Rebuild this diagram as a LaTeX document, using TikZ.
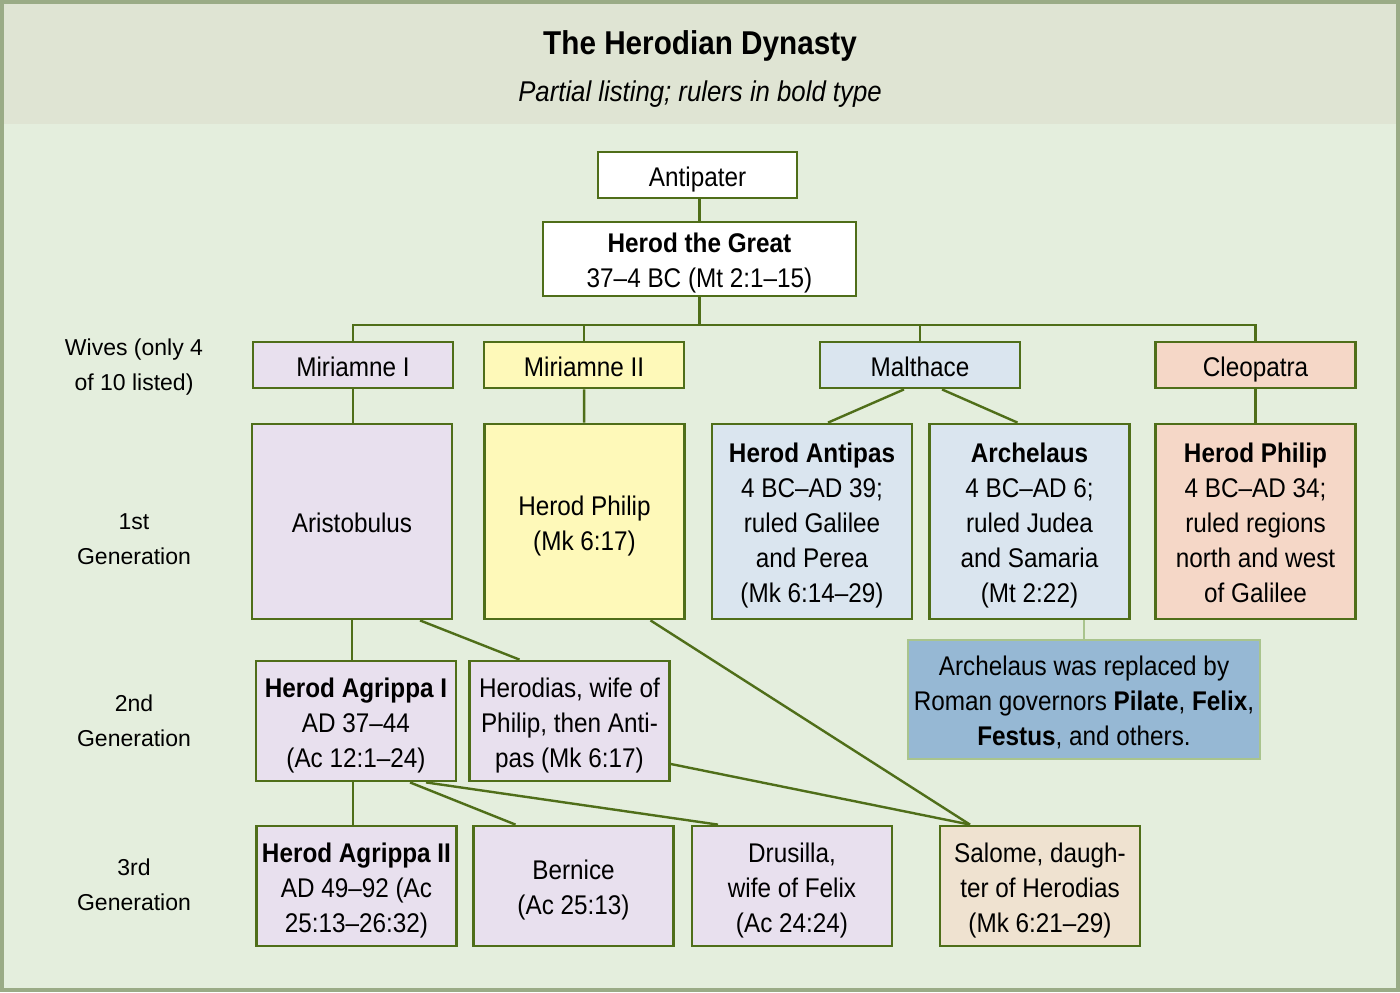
\documentclass[tikz,border=0pt]{standalone}
\usepackage{fontspec}
\setmainfont{Liberation Sans}[FakeStretch=0.9]
\newfontfamily\lblfont{Liberation Sans}
\usepackage{xcolor}
\usepackage{tikz}
\usetikzlibrary{positioning, calc}

\definecolor{framecol}{RGB}{154,171,134}
\definecolor{headbg}{RGB}{223,228,211}
\definecolor{bodybg}{RGB}{228,238,221}
\definecolor{linecol}{RGB}{79,110,25}
\definecolor{lavender}{RGB}{232,224,238}
\definecolor{paleyellow}{RGB}{254,249,185}
\definecolor{paleblue}{RGB}{218,229,239}
\definecolor{peach}{RGB}{245,215,199}
\definecolor{beige}{RGB}{239,226,208}
\definecolor{notefill}{RGB}{150,184,212}
\definecolor{noteline}{RGB}{169,196,141}

\newcommand{\tstrut}{\rule{0pt}{14pt}}

\begin{document}
\begin{tikzpicture}[
  x=0.5pt, y=-0.5pt,
  pbox/.style = {draw=linecol, line width=1.4pt, align=center, inner sep=0pt,
                 minimum width=100pt, font=\fontsize{13.5}{17.5}\selectfont,
                 execute at begin node=\tstrut,
                 execute at end node=\rule[-3pt]{0pt}{3pt}},
  small/.style = {pbox, minimum height=23pt},
  tall/.style = {pbox, minimum height=97.5pt},
  mid/.style = {pbox, minimum height=60pt},
  lbl/.style = {align=center, font=\lblfont\fontsize{11.5}{17.5}\selectfont},
  lnk/.style = {draw=linecol, line width=1.2pt}
]
\useasboundingbox (0,0) rectangle (1400,992);
\fill[bodybg] (0,0) rectangle (1400,992);
\fill[headbg] (4,4) rectangle (1396,124);
\draw[framecol, line width=2pt] (2,2) rectangle (1398,990);

\node[font=\bfseries\fontsize{16.5}{20}\selectfont] (title) at (700,46) {The Herodian Dynasty};
\node[font=\itshape\fontsize{14.3}{17}\selectfont] (subtitle) at (700,94) {Partial listing; rulers in bold type};

\node[lbl] (lblwives) at (134,367) {Wives (only 4\\of 10 listed)};
\node[lbl] (lblgen1) at (134,539) {1st\\Generation};
\node[lbl] (lblgen2) at (134,721) {2nd\\Generation};
\node[lbl] (lblgen3) at (134,885) {3rd\\Generation};

\node[small, fill=white, minimum width=99.5pt] (antipater) at (697.5,175) {Antipater};
\node[pbox, fill=white, minimum width=156.5pt, minimum height=37pt] (great) at (699.5,259)
  {\tstrut\textbf{Herod the Great}\\37–4 BC (Mt 2:1–15)};

\node[small, fill=lavender] (mir1) at (353,365) {Miriamne I};
\node[small, fill=paleyellow] (mir2) at (584,365) {Miriamne II};
\node[small, fill=paleblue] (malthace) at (920,365) {Malthace};
\node[small, fill=peach] (cleo) at (1255.5,365) {Cleopatra};

\node[tall, fill=lavender] (aristobulus) at (352,521.5) {Aristobulus};
\node[tall, fill=paleyellow] (philip1) at (584.5,521.5) {\tstrut Herod Philip\\(Mk 6:17)};
\node[tall, fill=paleblue] (antipas) at (812,521.5)
  {\tstrut\textbf{Herod Antipas}\\4 BC–AD 39;\\ruled Galilee\\and Perea\\(Mk 6:14–29)};
\node[tall, fill=paleblue] (archelaus) at (1029.5,521.5)
  {\tstrut\textbf{Archelaus}\\4 BC–AD 6;\\ruled Judea\\and Samaria\\(Mt 2:22)};
\node[tall, fill=peach] (philip2) at (1255.5,521.5)
  {\tstrut\textbf{Herod Philip}\\4 BC–AD 34;\\ruled regions\\north and west\\of Galilee};

\node[pbox, draw=noteline, line width=0.8pt, fill=notefill, minimum width=176pt, minimum height=59.5pt] (note) at (1084,699.5)
  {\tstrut Archelaus was replaced by\\Roman governors \textbf{Pilate}, \textbf{Felix},\\\textbf{Festus}, and others.};

\node[mid, fill=lavender] (agrippa1) at (356,721) {\tstrut\textbf{Herod Agrippa I}\\AD 37–44\\(Ac 12:1–24)};
\node[mid, fill=lavender] (herodias) at (569.5,721) {\tstrut Herodias, wife of\\Philip, then Anti-\\pas (Mk 6:17)};

\node[mid, fill=lavender] (agrippa2) at (356.5,886) {\tstrut\textbf{Herod Agrippa II}\\AD 49–92 (Ac\\25:13–26:32)};
\node[mid, fill=lavender] (bernice) at (573.5,886) {\tstrut Bernice\\(Ac 25:13)};
\node[mid, fill=lavender] (drusilla) at (792,886) {\tstrut Drusilla,\\wife of Felix\\(Ac 24:24)};
\node[mid, fill=beige] (salome) at (1040,886) {\tstrut Salome, daugh-\\ter of Herodias\\(Mk 6:21–29)};

\coordinate (bar) at (699.5,325);
\draw[lnk] (great.north |- antipater.south) -- (great.north);
\draw[lnk] (great) -- (bar);
\draw[lnk] (mir1.north) |- (bar) -| (cleo.north);
\draw[lnk] (mir2.north) -- (mir2.north |- bar);
\draw[lnk] (malthace.north) -- (malthace.north |- bar);
\draw[lnk] (mir1.south) -- (mir1.south |- aristobulus.north);
\draw[lnk] (mir2) -- (philip1);
\draw[lnk] (cleo) -- (philip2);
\draw[lnk] ([xshift=-8pt]malthace.south) -- ([xshift=8pt]antipas.north);
\draw[lnk] ([xshift=11pt]malthace.south) -- ([xshift=-6pt]archelaus.north);
\draw[noteline, line width=0.8pt] (note.north |- archelaus.south) -- (note.north);
\draw[lnk] (aristobulus.south) -- (aristobulus.south |- agrippa1.north);
\draw[lnk] ([xshift=34pt]aristobulus.south) -- ([xshift=-25pt]herodias.north);
\draw[lnk] ([xshift=33pt]philip1.south) -- ([xshift=-35pt]salome.north);
\draw[lnk] ([yshift=-21.5pt]herodias.east) -- ([xshift=-35pt]salome.north);
\draw[lnk] ([xshift=-1.5pt]agrippa1.south) -- ([xshift=-1.5pt]agrippa1.south |- agrippa2.north);
\draw[lnk] ([xshift=27pt]agrippa1.south) -- ([xshift=-29pt]bernice.north);
\draw[lnk] ([xshift=35pt]agrippa1.south) -- ([xshift=-37pt]drusilla.north);
\end{tikzpicture}
\end{document}
